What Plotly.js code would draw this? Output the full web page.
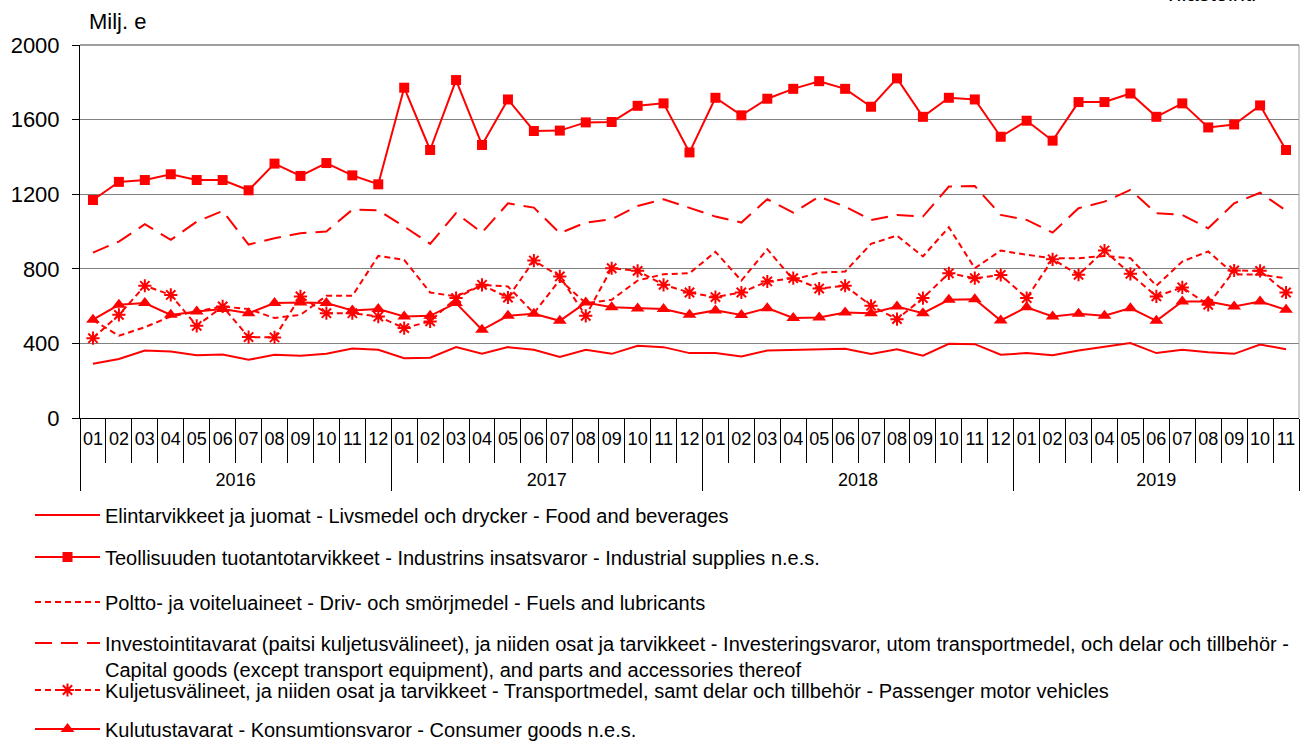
<!DOCTYPE html>
<html>
<head>
<meta charset="utf-8">
<script src="https://cdn.plot.ly/plotly-3.0.1.min.js"></script>
<style>html,body{margin:0;padding:0;background:#fff;}#chart{width:1307px;height:742px;}</style>
</head>
<body>
<div id="chart"></div>
<script>
var years = ['2016', '2017', '2018', '2019'];
var months = ['01','02','03','04','05','06','07','08','09','10','11','12'];
var monthsInLastYear = 11;

var food = [291,316,362,357,337,341,312,339,334,344,373,366,
            321,323,380,344,380,366,327,366,344,387,380,348,
            348,330,362,366,369,371,343,369,334,398,396,339,
            348,336,362,384,402,348,366,353,344,394,369];
var industrial = [1169,1266,1276,1307,1276,1276,1221,1364,1298,1367,1301,1253,
            1771,1437,1812,1464,1708,1539,1541,1585,1587,1674,1687,1424,
            1717,1623,1712,1765,1806,1765,1669,1821,1615,1717,1708,1508,
            1594,1487,1694,1694,1740,1615,1687,1558,1574,1676,1437];
var fuels = [525,441,487,544,571,598,584,536,553,655,655,869,
            848,673,652,714,705,562,741,616,634,737,771,776,
            891,737,905,741,780,785,934,978,866,1023,803,898,
            875,857,857,869,857,709,839,893,771,768,750];
var capital = [887,946,1039,955,1053,1110,930,964,991,1000,1117,1114,
            1026,934,1098,994,1151,1128,991,1048,1066,1137,1173,1125,
            1080,1048,1173,1101,1187,1133,1062,1089,1080,1241,1244,1089,
            1062,994,1125,1160,1223,1098,1089,1017,1151,1208,1112];
var transport = [428,553,709,660,494,598,434,432,652,562,562,544,
            482,518,643,714,646,844,759,548,803,789,714,673,
            648,673,732,750,694,709,602,530,643,776,750,767,
            643,851,768,898,773,652,700,607,791,789,673];
var consumer = [527,607,616,553,571,584,562,616,619,616,577,584,
            544,548,616,473,548,559,521,619,594,587,584,553,
            577,552,589,536,539,566,562,598,562,634,637,523,
            594,544,559,548,589,521,625,625,598,625,580];

var seriesNames = [
  'Elintarvikkeet ja juomat - Livsmedel och drycker - Food and beverages',
  'Teollisuuden tuotantotarvikkeet - Industrins insatsvaror - Industrial supplies n.e.s.',
  'Poltto- ja voiteluaineet - Driv- och smörjmedel - Fuels and lubricants',
  'Investointitavarat (paitsi kuljetusvälineet), ja niiden osat ja tarvikkeet - Investeringsvaror, utom transportmedel, och delar och tillbehör -<br>Capital goods (except transport equipment), and parts and accessories thereof',
  'Kuljetusvälineet, ja niiden osat ja tarvikkeet - Transportmedel, samt delar och tillbehör - Passenger motor vehicles',
  'Kulutustavarat - Konsumtionsvaror - Consumer goods n.e.s.'
];

// year labels sit one text line lower, below the month tick marks
var xYears = [], xMonths = [];
years.forEach(function (y, i) {
  var n = (i === years.length - 1) ? monthsInLastYear : months.length;
  for (var m = 0; m < n; m++) { xYears.push('<br>' + y); xMonths.push(months[m]); }
});
var X = [xYears, xMonths];
var RED = '#ff0000';
var FONT = 'Liberation Sans, Arial, sans-serif';

var traces = [
  {y: food, name: seriesNames[0], mode: 'lines', line: {color: RED, width: 2}, legend: 'legend'},
  {y: industrial, name: seriesNames[1], mode: 'lines+markers', line: {color: RED, width: 2},
   marker: {symbol: 'square', size: 10, color: RED}, legend: 'legend2'},
  {y: fuels, name: seriesNames[2], mode: 'lines', line: {color: RED, width: 2, dash: '6px,4px'}, legend: 'legend3'},
  {y: capital, name: seriesNames[3], mode: 'lines', line: {color: RED, width: 2, dash: '17px,9px'}, legend: 'legend4'},
  {y: transport, name: seriesNames[4], mode: 'lines+markers', line: {color: RED, width: 2, dash: '6px,4px'},
   marker: {symbol: 'asterisk-open', size: 11, color: RED, line: {color: RED, width: 2}}, legend: 'legend5'},
  {y: consumer, name: seriesNames[5], mode: 'lines+markers', line: {color: RED, width: 2},
   marker: {symbol: 'triangle-up', size: 12, color: RED}, legend: 'legend6'}
];
traces.forEach(function (t) { t.x = X; t.type = 'scatter'; });

// pixel row of the plot area -> paper y (plot area spans rows 45..418)
function py(p) { return (418 - p) / 373; }
function legendAt(p) {
  return {xref: 'container', yref: 'container', x: 30 / 1307, xanchor: 'left',
          y: (742 - p) / 742, yanchor: 'middle', orientation: 'v',
          bgcolor: 'rgba(0,0,0,0)', borderwidth: 0, itemwidth: 65, valign: 'top',
          font: {family: FONT, size: 20, color: '#000'}};
}

var layout = {
  width: 1307, height: 742,
  margin: {l: 80, r: 8, t: 45, b: 324, autoexpand: false},
  paper_bgcolor: '#fff', plot_bgcolor: '#fff',
  font: {family: FONT, color: '#000'},
  showlegend: true,
  legend: legendAt(515),
  legend2: legendAt(557),
  legend3: legendAt(602),
  legend4: legendAt(656),
  legend5: legendAt(690),
  legend6: legendAt(729),
  xaxis: {
    type: 'multicategory',
    range: [-0.5, X[0].length - 0.5], autorange: false,
    showline: true, linecolor: '#000', linewidth: 1,
    ticks: 'outside', ticklen: 44, tickcolor: '#000', tickwidth: 1,
    tickangle: 0, ticklabelstandoff: 4,
    showdividers: true, dividercolor: '#000', dividerwidth: 1,
    showgrid: false, zeroline: false,
    tickfont: {family: FONT, size: 18, color: '#000'}
  },
  yaxis: {
    range: [0, 2000], dtick: 400, tick0: 0,
    showline: true, linecolor: '#000', linewidth: 1,
    ticks: 'outside', ticklen: 7, tickcolor: '#000', ticklabelstandoff: 8,
    showgrid: true, gridcolor: '#808080', gridwidth: 1,
    zeroline: false,
    tickfont: {family: FONT, size: 22, color: '#000'}
  },
  shapes: [
    {type: 'line', xref: 'paper', yref: 'paper', x0: 1, x1: 1, y0: 0, y1: 1,
     line: {color: '#a0a0a0', width: 1}},
    {type: 'line', xref: 'paper', yref: 'paper', x0: 0, x1: 1, y0: 1, y1: 1,
     line: {color: '#404040', width: 1}}
  ],
  annotations: [
    {text: 'Milj. e', xref: 'paper', yref: 'paper', x: 0.006, y: py(22), xanchor: 'left', yanchor: 'middle',
     showarrow: false, font: {family: FONT, size: 22, color: '#000'}},
    {text: 'Tilastointi', xref: 'paper', yref: 'paper', x: (1210 - 80) / 1219, y: py(-6), xanchor: 'center', yanchor: 'middle',
     showarrow: false, font: {family: FONT, size: 22, color: '#000'}}
  ]
};

Plotly.newPlot('chart', traces, layout, {displayModeBar: false, staticPlot: true});
</script>
</body>
</html>
